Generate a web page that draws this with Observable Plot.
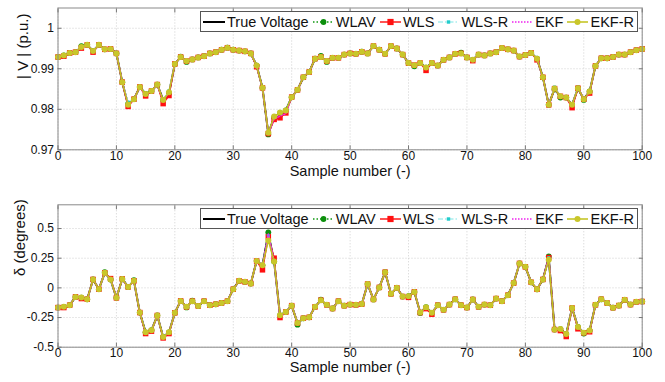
<!DOCTYPE html>
<html><head><meta charset="utf-8">
<script src="https://cdn.jsdelivr.net/npm/d3@7"></script>
<script src="https://cdn.jsdelivr.net/npm/@observablehq/plot@0.6"></script>
<style>
body{margin:0;background:#fff;font-family:"Liberation Sans",Arial,sans-serif;}
#wrap{position:relative;width:665px;height:382px;overflow:hidden;}
.panel{position:absolute;left:0;width:665px;height:191px;}
.legend{position:absolute;left:200px;width:438px;height:21px;display:flex;align-items:center;justify-content:space-between;background:#fff;border:1px solid #555;box-sizing:border-box;padding:0 3px 0 2px;font-size:14.5px;color:#111;white-space:nowrap;}
.legend .item{display:flex;align-items:center;}
.legend svg{display:block;margin-right:2px;}
</style></head><body>
<div id="wrap">
  <div class="panel" id="top" style="top:0"></div>
  <div class="panel" id="bot" style="top:191px"></div>
</div>
<script>
// ---------- data ----------
const samples = d3.range(0, 101);
const xTicks = [0,10,20,30,40,50,60,70,80,90,100];
const vTicks = [0.97,0.98,0.99,1];
const dTicks = [-0.5,-0.25,0,0.25,0.5];
const seriesNames = ["True Voltage","WLAV","WLS","WLS-R","EKF","EKF-R"];

const vTrue = [0.9929,0.9933,0.9939,0.9941,0.9954,0.9959,0.9944,0.9959,0.9948,0.9949,
0.9938,0.9867,0.9811,0.9825,0.9855,0.9838,0.9845,0.9861,0.9823,0.9840,
0.9912,0.9929,0.9919,0.9923,0.9928,0.9931,0.9938,0.9941,0.9947,0.9952,
0.9947,0.9945,0.9943,0.9938,0.9908,0.9853,0.9740,0.9780,0.9790,0.9797,
0.9830,0.9848,0.9879,0.9892,0.9925,0.9929,0.9919,0.9927,0.9927,0.9935,
0.9938,0.9937,0.9942,0.9938,0.9956,0.9947,0.9937,0.9956,0.9950,0.9935,
0.9914,0.9909,0.9914,0.9903,0.9914,0.9908,0.9922,0.9928,0.9937,0.9938,
0.9928,0.9922,0.9935,0.9933,0.9938,0.9941,0.9951,0.9948,0.9945,0.9930,
0.9934,0.9939,0.9925,0.9879,0.9811,0.9851,0.9832,0.9829,0.9811,0.9852,
0.9825,0.9844,0.9907,0.9926,0.9926,0.9929,0.9935,0.9935,0.9941,0.9946,
0.9949];
const vWLAV = [0.9929,0.9933,0.9939,0.9941,0.9956,0.9959,0.9944,0.9959,0.9948,0.9949,
0.9938,0.9867,0.9813,0.9825,0.9855,0.9838,0.9845,0.9861,0.9823,0.9840,
0.9912,0.9930,0.9917,0.9923,0.9928,0.9931,0.9938,0.9941,0.9947,0.9952,
0.9947,0.9945,0.9943,0.9938,0.9908,0.9853,0.9738,0.9780,0.9790,0.9797,
0.9830,0.9848,0.9879,0.9892,0.9925,0.9932,0.9917,0.9927,0.9927,0.9935,
0.9938,0.9937,0.9942,0.9938,0.9956,0.9947,0.9937,0.9956,0.9950,0.9935,
0.9914,0.9906,0.9914,0.9903,0.9914,0.9908,0.9922,0.9928,0.9937,0.9940,
0.9928,0.9922,0.9935,0.9933,0.9938,0.9941,0.9951,0.9948,0.9945,0.9930,
0.9934,0.9939,0.9925,0.9879,0.9811,0.9849,0.9829,0.9829,0.9811,0.9852,
0.9823,0.9844,0.9907,0.9926,0.9926,0.9929,0.9935,0.9935,0.9941,0.9946,
0.9949];
const vWLS = [0.9929,0.9931,0.9939,0.9941,0.9951,0.9959,0.9941,0.9959,0.9948,0.9949,
0.9938,0.9867,0.9807,0.9825,0.9855,0.9833,0.9845,0.9861,0.9814,0.9834,
0.9912,0.9929,0.9919,0.9923,0.9928,0.9931,0.9938,0.9941,0.9947,0.9952,
0.9947,0.9945,0.9943,0.9938,0.9905,0.9853,0.9740,0.9775,0.9779,0.9791,
0.9830,0.9848,0.9879,0.9892,0.9925,0.9929,0.9919,0.9927,0.9927,0.9935,
0.9938,0.9937,0.9942,0.9938,0.9956,0.9947,0.9937,0.9956,0.9950,0.9935,
0.9914,0.9909,0.9914,0.9896,0.9914,0.9908,0.9922,0.9928,0.9937,0.9938,
0.9928,0.9920,0.9935,0.9933,0.9938,0.9941,0.9951,0.9948,0.9945,0.9930,
0.9934,0.9939,0.9922,0.9879,0.9811,0.9851,0.9832,0.9829,0.9804,0.9852,
0.9825,0.9840,0.9907,0.9926,0.9926,0.9929,0.9935,0.9935,0.9941,0.9946,
0.9949];
const vWLSR = [0.9929,0.9933,0.9939,0.9941,0.9954,0.9959,0.9944,0.9959,0.9948,0.9949,
0.9938,0.9867,0.9818,0.9825,0.9855,0.9838,0.9845,0.9861,0.9823,0.9846,
0.9912,0.9929,0.9919,0.9923,0.9928,0.9931,0.9938,0.9941,0.9947,0.9952,
0.9947,0.9945,0.9943,0.9938,0.9908,0.9853,0.9740,0.9780,0.9790,0.9797,
0.9830,0.9848,0.9879,0.9892,0.9925,0.9929,0.9919,0.9927,0.9927,0.9935,
0.9938,0.9937,0.9942,0.9938,0.9956,0.9947,0.9937,0.9956,0.9950,0.9935,
0.9914,0.9909,0.9914,0.9903,0.9914,0.9908,0.9922,0.9928,0.9937,0.9938,
0.9928,0.9922,0.9935,0.9933,0.9938,0.9941,0.9951,0.9948,0.9945,0.9930,
0.9934,0.9939,0.9925,0.9879,0.9811,0.9855,0.9832,0.9829,0.9811,0.9854,
0.9825,0.9844,0.9907,0.9926,0.9926,0.9929,0.9935,0.9935,0.9941,0.9946,
0.9949];
const vEKF = [0.9929,0.9933,0.9939,0.9941,0.9954,0.9959,0.9944,0.9959,0.9948,0.9949,
0.9938,0.9867,0.9811,0.9825,0.9855,0.9836,0.9845,0.9861,0.9823,0.9840,
0.9912,0.9929,0.9919,0.9923,0.9928,0.9931,0.9938,0.9941,0.9947,0.9952,
0.9947,0.9945,0.9943,0.9938,0.9908,0.9853,0.9740,0.9776,0.9783,0.9789,
0.9830,0.9848,0.9879,0.9892,0.9925,0.9929,0.9919,0.9927,0.9927,0.9935,
0.9938,0.9937,0.9942,0.9938,0.9956,0.9947,0.9937,0.9956,0.9950,0.9935,
0.9914,0.9909,0.9914,0.9903,0.9914,0.9908,0.9922,0.9928,0.9937,0.9938,
0.9928,0.9922,0.9935,0.9933,0.9938,0.9941,0.9951,0.9948,0.9945,0.9930,
0.9934,0.9939,0.9925,0.9879,0.9811,0.9851,0.9832,0.9829,0.9811,0.9852,
0.9825,0.9844,0.9907,0.9926,0.9926,0.9929,0.9935,0.9935,0.9941,0.9946,
0.9949];
const vEKFR = [0.9929,0.9933,0.9939,0.9941,0.9954,0.9959,0.9944,0.9959,0.9948,0.9949,
0.9938,0.9867,0.9811,0.9825,0.9855,0.9838,0.9845,0.9861,0.9823,0.9842,
0.9912,0.9929,0.9919,0.9923,0.9928,0.9931,0.9938,0.9941,0.9947,0.9952,
0.9947,0.9945,0.9943,0.9938,0.9908,0.9853,0.9742,0.9782,0.9792,0.9797,
0.9830,0.9848,0.9879,0.9892,0.9925,0.9929,0.9919,0.9927,0.9927,0.9935,
0.9938,0.9937,0.9942,0.9938,0.9956,0.9947,0.9937,0.9956,0.9950,0.9935,
0.9914,0.9909,0.9914,0.9903,0.9914,0.9908,0.9922,0.9928,0.9937,0.9938,
0.9928,0.9922,0.9935,0.9933,0.9938,0.9941,0.9951,0.9948,0.9945,0.9930,
0.9934,0.9939,0.9925,0.9879,0.9811,0.9851,0.9832,0.9829,0.9811,0.9852,
0.9825,0.9844,0.9907,0.9926,0.9926,0.9929,0.9935,0.9935,0.9941,0.9946,
0.9949];

const dTrue = [-0.166,-0.160,-0.146,-0.076,-0.082,-0.096,0.071,-0.011,0.127,0.071,
-0.084,0.075,0.008,0.059,-0.208,-0.375,-0.357,-0.233,-0.414,-0.375,
-0.210,-0.110,-0.160,-0.112,-0.152,-0.112,-0.146,-0.138,-0.127,-0.112,
-0.011,0.059,0.051,0.037,0.226,0.190,0.455,0.222,-0.231,-0.203,
-0.150,-0.296,-0.256,-0.248,-0.160,-0.104,-0.143,-0.174,-0.112,-0.150,
-0.141,-0.143,-0.137,0.032,-0.097,0.004,0.132,-0.050,0.000,-0.073,
-0.070,-0.034,-0.208,-0.163,-0.210,-0.146,-0.185,-0.141,-0.096,-0.146,
-0.166,-0.098,-0.160,-0.141,-0.146,-0.090,-0.112,-0.062,0.040,0.206,
0.177,0.047,-0.012,0.071,0.255,-0.351,-0.347,-0.388,-0.170,-0.329,
-0.378,-0.360,-0.143,-0.096,-0.128,-0.167,-0.149,-0.101,-0.141,-0.118,
-0.115];
const dWLAV = [-0.166,-0.160,-0.146,-0.076,-0.082,-0.096,0.071,-0.011,0.133,0.071,
-0.084,0.075,0.008,0.065,-0.208,-0.375,-0.357,-0.233,-0.414,-0.375,
-0.210,-0.110,-0.165,-0.107,-0.152,-0.112,-0.146,-0.138,-0.127,-0.112,
-0.011,0.059,0.051,0.037,0.226,0.190,0.468,0.222,-0.231,-0.203,
-0.150,-0.310,-0.256,-0.248,-0.160,-0.100,-0.143,-0.174,-0.112,-0.150,
-0.141,-0.143,-0.137,0.032,-0.097,0.004,0.132,-0.050,0.000,-0.073,
-0.070,-0.034,-0.212,-0.163,-0.210,-0.146,-0.185,-0.141,-0.096,-0.146,
-0.166,-0.098,-0.160,-0.141,-0.146,-0.090,-0.112,-0.062,0.040,0.206,
0.177,0.047,-0.012,0.071,0.265,-0.351,-0.347,-0.388,-0.170,-0.329,
-0.385,-0.360,-0.143,-0.096,-0.128,-0.167,-0.149,-0.101,-0.141,-0.118,
-0.115];
const dWLS = [-0.166,-0.166,-0.146,-0.076,-0.090,-0.096,0.071,-0.011,0.127,0.078,
-0.084,0.075,0.008,0.059,-0.208,-0.385,-0.365,-0.233,-0.422,-0.385,
-0.210,-0.110,-0.160,-0.112,-0.152,-0.112,-0.146,-0.138,-0.127,-0.112,
-0.011,0.059,0.051,0.037,0.226,0.152,0.430,0.250,-0.250,-0.203,
-0.150,-0.296,-0.256,-0.248,-0.160,-0.104,-0.143,-0.174,-0.112,-0.150,
-0.141,-0.143,-0.137,0.032,-0.097,0.004,0.132,-0.050,0.000,-0.073,
-0.080,-0.034,-0.208,-0.175,-0.222,-0.146,-0.185,-0.141,-0.096,-0.146,
-0.166,-0.098,-0.160,-0.141,-0.146,-0.090,-0.112,-0.062,0.040,0.206,
0.177,0.047,-0.012,0.071,0.255,-0.351,-0.360,-0.410,-0.170,-0.345,
-0.378,-0.370,-0.143,-0.096,-0.128,-0.167,-0.149,-0.101,-0.141,-0.118,
-0.115];
const dWLSR = [-0.166,-0.160,-0.146,-0.076,-0.082,-0.096,0.071,-0.011,0.127,0.071,
-0.084,0.075,0.008,0.059,-0.204,-0.375,-0.357,-0.233,-0.414,-0.375,
-0.210,-0.110,-0.160,-0.112,-0.152,-0.112,-0.146,-0.138,-0.127,-0.112,
-0.011,0.059,0.051,0.037,0.226,0.190,0.440,0.222,-0.231,-0.203,
-0.150,-0.296,-0.256,-0.248,-0.160,-0.104,-0.143,-0.174,-0.112,-0.150,
-0.141,-0.143,-0.137,0.032,-0.097,0.004,0.132,-0.050,0.000,-0.073,
-0.070,-0.034,-0.208,-0.163,-0.210,-0.146,-0.185,-0.141,-0.096,-0.146,
-0.166,-0.098,-0.160,-0.141,-0.146,-0.090,-0.112,-0.062,0.040,0.206,
0.177,0.047,-0.012,0.071,0.255,-0.351,-0.347,-0.388,-0.170,-0.329,
-0.378,-0.360,-0.143,-0.096,-0.128,-0.167,-0.149,-0.101,-0.141,-0.118,
-0.115];
const dEKF = [-0.166,-0.160,-0.146,-0.076,-0.082,-0.096,0.071,-0.011,0.127,0.071,
-0.084,0.075,0.000,0.059,-0.208,-0.380,-0.357,-0.233,-0.414,-0.375,
-0.210,-0.110,-0.160,-0.112,-0.152,-0.112,-0.146,-0.138,-0.127,-0.112,
-0.011,0.059,0.051,0.037,0.226,0.190,0.455,0.222,-0.240,-0.203,
-0.150,-0.296,-0.256,-0.248,-0.160,-0.104,-0.143,-0.174,-0.112,-0.150,
-0.141,-0.143,-0.137,0.032,-0.097,0.004,0.132,-0.050,0.000,-0.073,
-0.070,-0.034,-0.208,-0.163,-0.210,-0.146,-0.185,-0.141,-0.096,-0.146,
-0.166,-0.098,-0.160,-0.141,-0.146,-0.090,-0.112,-0.062,0.040,0.206,
0.177,0.047,-0.012,0.071,0.255,-0.351,-0.347,-0.388,-0.170,-0.329,
-0.378,-0.360,-0.143,-0.096,-0.128,-0.167,-0.149,-0.101,-0.141,-0.118,
-0.115];
const dEKFR = [-0.166,-0.160,-0.146,-0.076,-0.082,-0.096,0.071,-0.011,0.127,0.071,
-0.084,0.075,0.008,0.059,-0.208,-0.375,-0.357,-0.233,-0.414,-0.375,
-0.210,-0.110,-0.160,-0.112,-0.152,-0.112,-0.146,-0.138,-0.127,-0.112,
-0.011,0.059,0.051,0.037,0.226,0.190,0.400,0.222,-0.231,-0.203,
-0.150,-0.296,-0.256,-0.248,-0.160,-0.104,-0.143,-0.174,-0.112,-0.150,
-0.141,-0.143,-0.137,0.032,-0.097,0.004,0.132,-0.050,0.000,-0.073,
-0.070,-0.034,-0.208,-0.163,-0.210,-0.146,-0.185,-0.141,-0.096,-0.146,
-0.166,-0.098,-0.160,-0.141,-0.146,-0.090,-0.112,-0.062,0.040,0.206,
0.177,0.047,-0.012,0.071,0.236,-0.351,-0.347,-0.388,-0.170,-0.329,
-0.378,-0.360,-0.143,-0.096,-0.128,-0.167,-0.149,-0.101,-0.141,-0.118,
-0.115];

// ---------- styles ----------
const styles = [
  {stroke:"#000000", width:2,   dash:null,          marker:null},
  {stroke:"#119911", width:1.3, dash:"1.5,2",       marker:{symbol:"circle", r:2.9, fill:"#0c8f0c"}},
  {stroke:"#ff1a1a", width:1.5, dash:null,          marker:{symbol:"square", r:3.1, fill:"#ff1010"}},
  {stroke:"#a8eeee", width:1.3, dash:"5,2,1.5,2",   marker:{symbol:"square", r:1.7, fill:"#22cccc"}},
  {stroke:"#ee22ee", width:1.3, dash:"1.5,1.5",     marker:null},
  {stroke:"#c2c21a", width:1.5, dash:null,          marker:{symbol:"circle", r:3, fill:"#c9c62a"}}
];

function tableOf(arrays) {
  const rows = [];
  arrays.forEach((arr, s) => arr.forEach((v, i) => rows.push({x: samples[i], y: v, s})));
  return rows;
}

function makePanel(el, arrays, yDomain, yTicks, yLabel, mt, mb, ylabDx, xlabDy, xPad) {
  const rows = tableOf(arrays);
  const marks = [
    Plot.gridX(xTicks, {stroke:"#cfcfcf", strokeOpacity:1, strokeDasharray:"1,2"}),
    Plot.gridY(yTicks, {stroke:"#cfcfcf", strokeOpacity:1, strokeDasharray:"1,2"}),
  ];
  styles.forEach((st, s) => {
    const d = rows.filter(r => r.s === s);
    marks.push(Plot.line(d, {x:"x", y:"y", stroke:st.stroke, strokeWidth:st.width, strokeDasharray:st.dash}));
    if (st.marker) marks.push(Plot.dot(d, {x:"x", y:"y", symbol:st.marker.symbol, r:st.marker.r, fill:st.marker.fill, stroke:"none"}));
  });
  marks.push(
    Plot.frame({stroke:"#8a8a8a"}),
    Plot.axisX(xTicks, {anchor:"bottom", tickSize:0, tickPadding:xPad, fontSize:12, tickFormat:d=>String(d), label:null}),
    Plot.axisX(xTicks, {anchor:"bottom", tickSize:-4, fill:"none", stroke:"#777", label:null}),
    Plot.axisX(xTicks, {anchor:"top", tickSize:-4, fill:"none", stroke:"#777", label:null}),
    Plot.axisY(yTicks, {anchor:"left", tickSize:0, tickPadding:4, fontSize:12, tickFormat:d=>String(d), label:null}),
    Plot.axisY(yTicks, {anchor:"left", tickSize:-4, fill:"none", stroke:"#777", label:null}),
    Plot.axisY(yTicks, {anchor:"right", tickSize:-4, fill:"none", stroke:"#777", label:null}),
    Plot.text(["Sample number (-)"], {frameAnchor:"bottom", dy:xlabDy, fontSize:14.5, fill:"#111"}),
    Plot.text([yLabel], {frameAnchor:"left", dx:ylabDx, rotate:-90, fontSize:15, fill:"#111"})
  );
  const chart = Plot.plot({
    width:665, height:191,
    marginLeft:57.5, marginRight:23.3, marginTop:mt, marginBottom:mb,
    x:{domain:[0,100]},
    y:{domain:yDomain},
    style:{fontFamily:"'Liberation Sans', Arial, sans-serif", fontSize:"12px", color:"#111", background:"#fff", overflow:"visible"},
    marks
  });
  el.appendChild(chart);
}

function makeLegend(el, topPx) {
  const lg = document.createElement("div");
  lg.className = "legend";
  lg.style.top = topPx + "px";
  seriesNames.forEach((name, s) => {
    const st = styles[s];
    const it = document.createElement("div");
    it.className = "item";
    const W = s === 0 ? 22 : 21;
    let svg = `<svg width="${W}" height="10"><line x1="0" y1="5" x2="${W}" y2="5" stroke="${st.stroke}" stroke-width="${st.width}" ${st.dash ? `stroke-dasharray="${st.dash}"` : ""}/>`;
    if (st.marker) {
      if (st.marker.symbol === "circle") svg += `<circle cx="${W/2}" cy="5" r="${st.marker.r}" fill="${st.marker.fill}"/>`;
      else { const h = st.marker.r; svg += `<rect x="${W/2-h}" y="${5-h}" width="${2*h}" height="${2*h}" fill="${st.marker.fill}"/>`; }
    }
    svg += `</svg>`;
    it.innerHTML = svg + `<span>${name}</span>`;
    lg.appendChild(it);
  });
  el.appendChild(lg);
}

const topEl = document.getElementById("top");
const botEl = document.getElementById("bot");
makePanel(topEl, [vTrue, vWLAV, vWLS, vWLSR, vEKF, vEKFR], [0.97, 1.005], vTicks, "| V | (p.u.)", 7.5, 41.7, -34.5, 26, 2);
makePanel(botEl, [dTrue, dWLAV, dWLS, dWLSR, dEKF, dEKFR], [-0.5, 0.7], dTicks, "δ (degrees)", 13.3, 35.3, -37.5, 25, 1);
makeLegend(topEl, 11);
makeLegend(botEl, 17);
</script>
</body></html>
